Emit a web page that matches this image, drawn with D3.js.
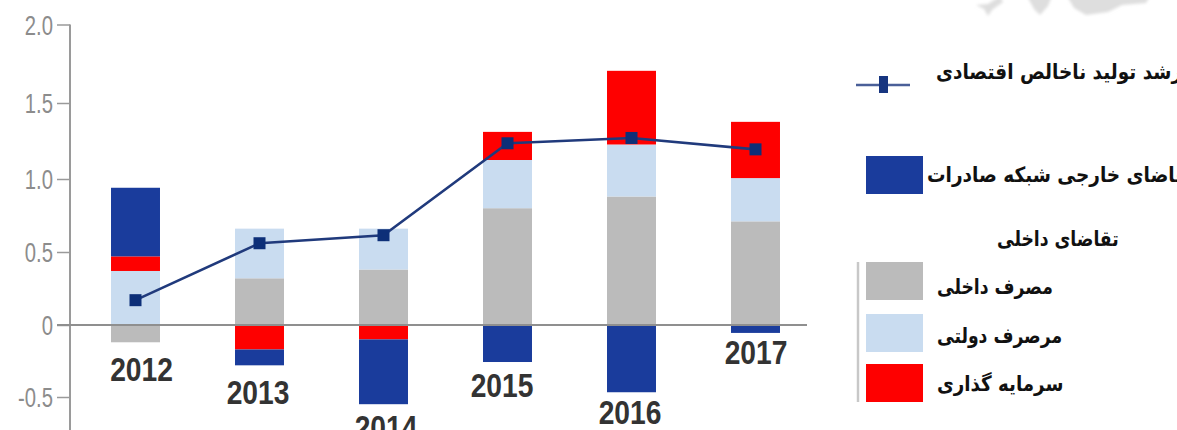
<!DOCTYPE html>
<html>
<head>
<meta charset="utf-8">
<script src="https://cdn.jsdelivr.net/npm/d3@7"></script>
<style>
    html, body { margin: 0; padding: 0; background: #fff; overflow: hidden; }
    .tick-label { font-family: "Liberation Sans", sans-serif; font-size: 27px; fill: #8c8c8c; text-anchor: end; }
    .year-label { font-family: "Liberation Sans", sans-serif; font-size: 34px; font-weight: bold; fill: #333; text-anchor: middle; }
    .legend-label { font-family: "DejaVu Sans", sans-serif; font-size: 21px; font-weight: bold; fill: #111; direction: rtl; text-anchor: end; }
</style>
</head>
<body>
<div id="graph"></div>
<script>
// The data...
var years = [ '2012', '2013', '2014', '2015', '2016', '2017' ];

var consumption = [ -0.12, 0.32, 0.38, 0.80, 0.88, 0.71 ];
var government  = [ 0.37, 0.34, 0.28, 0.325, 0.347, 0.296 ];
var investment  = [ 0.10, -0.17, -0.10, 0.185, 0.478, 0.37 ];
var exportsNet  = [ 0.47, -0.11, -0.45, -0.257, -0.467, -0.055 ];
var gdpGrowth   = [ 0.17, 0.56, 0.615, 1.235, 1.27, 1.195 ];

var yTicks = [ -0.5, 0, 0.5, 1.0, 1.5, 2.0 ];

var seriesKeys = [ 'consumption', 'government', 'investment', 'exportsNet' ];
var colours = { consumption: '#bbbbbb', government: '#c9dcf0', investment: '#fe0000', exportsNet: '#1a3c9c' };

// the year labels sit at hand-placed spots under each bar
var yearLabelX = [ 141.5, 258, 386, 502, 630, 756 ];
var yearLabelY = [ 381, 404, 439, 397, 424, 364 ];

var width = 1177, height = 430;

var svg = d3.select ('#graph').append ('svg')
            .attr ('width', width)
            .attr ('height', height)
            .style ('display', 'block');

svg.append ('filter')
   .attr ('id', 'soft')
   .append ('feGaussianBlur')
   .attr ('stdDeviation', 1.6);

// The printed axis is not quite even, so the scale goes through each tick
var yScale = d3.scaleLinear ()
               .domain ([ -1, -0.5, 0, 0.5, 1, 1.5, 2 ])
               .range ([ 469, 397, 325, 252, 179, 103, 24.5 ]);

var xScale = d3.scaleBand ()
               .domain (years)
               .range ([ 73.5, 817.5 ])
               .paddingInner (0.605)
               .paddingOuter (0.3025);

// Faint map fragment at the top edge
var mapPieces = [
    'M1067,-4 L1150,-4 L1146,3 L1122,5 L1108,12 L1086,15 L1074,8 Z',
    'M1027,-4 L1052,-4 L1048,6 L1040,15 L1034,9 Z',
    'M1000,-4 L1003,2 L992,10 L988,16 L984,9 L976,5 L988,4 Z'
];

svg.selectAll ('path.map')
   .data (mapPieces)
   .enter ()
   .append ('path')
   .attr ('class', 'map')
   .attr ('d', function (d) { return d; })
   .attr ('fill', '#dedede')
   .attr ('filter', 'url(#soft)');

// Stacked bars
var rows = years.map (function (y, i) {
    return { year: y, consumption: consumption[i], government: government[i], investment: investment[i], exportsNet: exportsNet[i] };
});

var stacked = d3.stack ()
                .keys (seriesKeys)
                .offset (d3.stackOffsetDiverging) (rows);

svg.selectAll ('g.series')
   .data (stacked)
   .enter ()
   .append ('g')
   .attr ('class', 'series')
   .attr ('fill', function (d) { return colours[d.key]; })
   .selectAll ('rect')
   .data (function (d) { return d; })
   .enter ()
   .append ('rect')
   .attr ('x', function (d) { return xScale (d.data.year); })
   .attr ('y', function (d) { return yScale (d[1]); })
   .attr ('width', xScale.bandwidth ())
   .attr ('height', function (d) { return yScale (d[0]) - yScale (d[1]); });

// Y axis
var yAxis = d3.axisLeft (yScale)
              .tickValues (yTicks)
              .tickSize (13)
              .tickFormat (function (d) { return d === 0 ? '0' : d.toFixed (1); });

var yAxisG = svg.append ('g')
                .attr ('transform', 'translate(70,0)')
                .call (yAxis);

yAxisG.select ('.domain')
      .attr ('stroke', '#9a9a9a')
      .attr ('stroke-width', 2)
      .attr ('d', 'M0,' + yScale (2) + 'V' + height);
yAxisG.selectAll ('.tick line').attr ('stroke', '#9a9a9a').attr ('stroke-width', 1.5);
yAxisG.selectAll ('.tick text')
      .attr ('class', 'tick-label')
      .attr ('x', 0)
      .attr ('fill', null)
      .attr ('transform', 'translate(-17,1) scale(0.75,1)');
yAxisG.attr ('font-family', null).attr ('font-size', null);

// Zero line
svg.append ('line')
   .attr ('x1', 57).attr ('x2', 807)
   .attr ('y1', yScale (0)).attr ('y2', yScale (0))
   .attr ('stroke', '#8f8f8f')
   .attr ('stroke-width', 1.8);

// GDP growth line
var line = d3.line ()
             .x (function (d, i) { return xScale (years[i]) + xScale.bandwidth () / 2; })
             .y (function (d) { return yScale (d); });

svg.append ('path')
   .datum (gdpGrowth)
   .attr ('d', line)
   .attr ('fill', 'none')
   .attr ('stroke', '#203a7c')
   .attr ('stroke-width', 2.6);

svg.selectAll ('rect.marker')
   .data (gdpGrowth)
   .enter ()
   .append ('rect')
   .attr ('class', 'marker')
   .attr ('x', function (d, i) { return xScale (years[i]) + xScale.bandwidth () / 2 - 6; })
   .attr ('y', function (d) { return yScale (d) - 6; })
   .attr ('width', 12)
   .attr ('height', 12)
   .attr ('fill', '#0d2f78');

// Year labels, squeezed to the narrow look of the original
svg.selectAll ('text.year-label')
   .data (years)
   .enter ()
   .append ('text')
   .attr ('class', 'year-label')
   .attr ('transform', function (d, i) { return 'translate(' + yearLabelX[i] + ',' + yearLabelY[i] + ') scale(0.83,1)'; })
   .text (function (d) { return d; });

// Legend
svg.append ('line')
   .attr ('x1', 856).attr ('x2', 910)
   .attr ('y1', 85).attr ('y2', 85)
   .attr ('stroke', '#4a5f98')
   .attr ('stroke-width', 2.5);
svg.append ('rect')
   .attr ('x', 879).attr ('y', 76)
   .attr ('width', 9).attr ('height', 17)
   .attr ('fill', '#173580');

var legendSwatches = [
    { key: 'exportsNet',  y: 156 },
    { key: 'consumption', y: 262 },
    { key: 'government',  y: 314 },
    { key: 'investment',  y: 364 }
];

svg.selectAll ('rect.swatch')
   .data (legendSwatches)
   .enter ()
   .append ('rect')
   .attr ('class', 'swatch')
   .attr ('x', 866)
   .attr ('y', function (d) { return d.y; })
   .attr ('width', 57)
   .attr ('height', 38)
   .attr ('fill', function (d) { return colours[d.key]; });

svg.append ('line')
   .attr ('x1', 858).attr ('x2', 858)
   .attr ('y1', 262).attr ('y2', 402)
   .attr ('stroke', '#c8c8c8')
   .attr ('stroke-width', 2.5);

// direction rtl + anchor end puts the left edge of the text on x
var legendTexts = [
    { text: 'رشد تولید ناخالص اقتصادی', x: 936,  y: 79,  sx: 0.88 },
    { text: 'تقاضای خارجی شبکه صادرات', x: 927,  y: 182, sx: 0.88 },
    { text: 'تقاضای داخلی',             x: 997,  y: 246, sx: 0.82 },
    { text: 'مصرف داخلی',               x: 937,  y: 294, sx: 0.82 },
    { text: 'مرصرف دولتی',              x: 937,  y: 343, sx: 0.82 },
    { text: 'سرمایه گذاری',             x: 937,  y: 391, sx: 0.87 }
];

svg.selectAll ('text.legend-label')
   .data (legendTexts)
   .enter ()
   .append ('text')
   .attr ('class', 'legend-label')
   .attr ('transform', function (d) { return 'translate(' + d.x + ',' + d.y + ') scale(' + d.sx + ',1)'; })
   .text (function (d) { return d.text; });
</script>
</body>
</html>
